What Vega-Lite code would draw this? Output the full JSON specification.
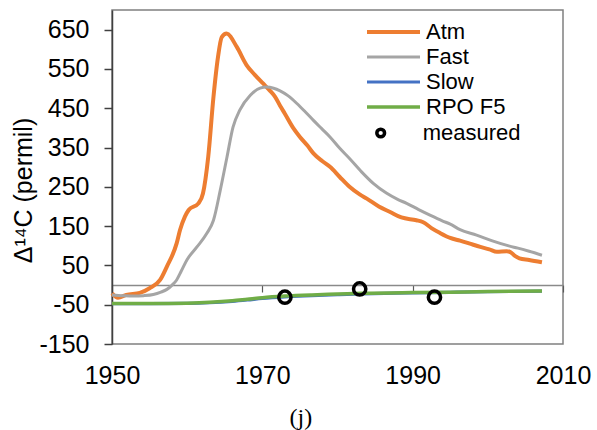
{
  "$schema": "https://vega.github.io/schema/vega-lite/v6.json",
  "width": 451,
  "height": 334,
  "autosize": {"type": "none"},
  "padding": {"left": 112, "top": 10, "right": 34, "bottom": 86},
  "background": "white",
  "config": {
    "font": "Liberation Sans",
    "view": {"stroke": "#808080", "strokeWidth": 1.5}
  },
  "title": {
    "text": "(j)",
    "orient": "bottom",
    "anchor": "middle",
    "frame": "bounds",
    "font": "Liberation Serif",
    "fontSize": 24,
    "fontWeight": "normal",
    "color": "black",
    "offset": 18
  },
  "datasets": {
    "lines": [
      {"series": "Atm", "year": 1950.0, "value": -21},
      {"series": "Atm", "year": 1950.8, "value": -32},
      {"series": "Atm", "year": 1951.9, "value": -25},
      {"series": "Atm", "year": 1953.7, "value": -20},
      {"series": "Atm", "year": 1955.0, "value": -8},
      {"series": "Atm", "year": 1956.4, "value": 13},
      {"series": "Atm", "year": 1957.3, "value": 47},
      {"series": "Atm", "year": 1958.6, "value": 106},
      {"series": "Atm", "year": 1959.05, "value": 140},
      {"series": "Atm", "year": 1959.7, "value": 174},
      {"series": "Atm", "year": 1960.2, "value": 191},
      {"series": "Atm", "year": 1961.5, "value": 208},
      {"series": "Atm", "year": 1962.1, "value": 233},
      {"series": "Atm", "year": 1962.8, "value": 326},
      {"series": "Atm", "year": 1963.5, "value": 479},
      {"series": "Atm", "year": 1964.1, "value": 580},
      {"series": "Atm", "year": 1964.6, "value": 631},
      {"series": "Atm", "year": 1965.25, "value": 640},
      {"series": "Atm", "year": 1966.6, "value": 606},
      {"series": "Atm", "year": 1967.9, "value": 560},
      {"series": "Atm", "year": 1969.0, "value": 535},
      {"series": "Atm", "year": 1970.1, "value": 513},
      {"series": "Atm", "year": 1971.0, "value": 495},
      {"series": "Atm", "year": 1971.7, "value": 479},
      {"series": "Atm", "year": 1972.4, "value": 455},
      {"series": "Atm", "year": 1973.0, "value": 436},
      {"series": "Atm", "year": 1974.1, "value": 400},
      {"series": "Atm", "year": 1975.0, "value": 377},
      {"series": "Atm", "year": 1976.0, "value": 355},
      {"series": "Atm", "year": 1976.8, "value": 335},
      {"series": "Atm", "year": 1978.0, "value": 315},
      {"series": "Atm", "year": 1979.0, "value": 301},
      {"series": "Atm", "year": 1980.3, "value": 275},
      {"series": "Atm", "year": 1981.6, "value": 250},
      {"series": "Atm", "year": 1983.0, "value": 230},
      {"series": "Atm", "year": 1983.9, "value": 220},
      {"series": "Atm", "year": 1985.5, "value": 200},
      {"series": "Atm", "year": 1987.0, "value": 186},
      {"series": "Atm", "year": 1988.5, "value": 172},
      {"series": "Atm", "year": 1990.5, "value": 165},
      {"series": "Atm", "year": 1991.4, "value": 160},
      {"series": "Atm", "year": 1992.5, "value": 145},
      {"series": "Atm", "year": 1993.6, "value": 133},
      {"series": "Atm", "year": 1995.0, "value": 120},
      {"series": "Atm", "year": 1996.3, "value": 113},
      {"series": "Atm", "year": 1997.5, "value": 106},
      {"series": "Atm", "year": 1999.0, "value": 97},
      {"series": "Atm", "year": 2000.2, "value": 91},
      {"series": "Atm", "year": 2001.2, "value": 85},
      {"series": "Atm", "year": 2002.5, "value": 86},
      {"series": "Atm", "year": 2003.0, "value": 84},
      {"series": "Atm", "year": 2003.6, "value": 74},
      {"series": "Atm", "year": 2004.2, "value": 68},
      {"series": "Atm", "year": 2005.5, "value": 64},
      {"series": "Atm", "year": 2007.2, "value": 58},
      {"series": "Fast", "year": 1950.0, "value": -25},
      {"series": "Fast", "year": 1951.5, "value": -27},
      {"series": "Fast", "year": 1952.8, "value": -28},
      {"series": "Fast", "year": 1954.2, "value": -27},
      {"series": "Fast", "year": 1955.5, "value": -24},
      {"series": "Fast", "year": 1956.5, "value": -18},
      {"series": "Fast", "year": 1957.3, "value": -11},
      {"series": "Fast", "year": 1958.0, "value": 0},
      {"series": "Fast", "year": 1958.6, "value": 13},
      {"series": "Fast", "year": 1959.2, "value": 35},
      {"series": "Fast", "year": 1960.0, "value": 65},
      {"series": "Fast", "year": 1961.3, "value": 97},
      {"series": "Fast", "year": 1962.6, "value": 131},
      {"series": "Fast", "year": 1963.5, "value": 165},
      {"series": "Fast", "year": 1964.4, "value": 241},
      {"series": "Fast", "year": 1965.3, "value": 326},
      {"series": "Fast", "year": 1966.1, "value": 402},
      {"series": "Fast", "year": 1967.0, "value": 445},
      {"series": "Fast", "year": 1968.4, "value": 483},
      {"series": "Fast", "year": 1969.7, "value": 501},
      {"series": "Fast", "year": 1970.6, "value": 504},
      {"series": "Fast", "year": 1971.5, "value": 501},
      {"series": "Fast", "year": 1972.3, "value": 495},
      {"series": "Fast", "year": 1973.4, "value": 482},
      {"series": "Fast", "year": 1974.6, "value": 462},
      {"series": "Fast", "year": 1975.7, "value": 441},
      {"series": "Fast", "year": 1976.8, "value": 419},
      {"series": "Fast", "year": 1977.9, "value": 398},
      {"series": "Fast", "year": 1979.0, "value": 377},
      {"series": "Fast", "year": 1980.3, "value": 348},
      {"series": "Fast", "year": 1981.6, "value": 322},
      {"series": "Fast", "year": 1983.2, "value": 288},
      {"series": "Fast", "year": 1984.8, "value": 258},
      {"series": "Fast", "year": 1986.5, "value": 234},
      {"series": "Fast", "year": 1988.0, "value": 218},
      {"series": "Fast", "year": 1989.2, "value": 208},
      {"series": "Fast", "year": 1990.8, "value": 192},
      {"series": "Fast", "year": 1992.3, "value": 178},
      {"series": "Fast", "year": 1994.0, "value": 163},
      {"series": "Fast", "year": 1995.0, "value": 155},
      {"series": "Fast", "year": 1996.3, "value": 141},
      {"series": "Fast", "year": 1998.5, "value": 127},
      {"series": "Fast", "year": 2000.5, "value": 113},
      {"series": "Fast", "year": 2002.9, "value": 99},
      {"series": "Fast", "year": 2004.0, "value": 94},
      {"series": "Fast", "year": 2005.5, "value": 86},
      {"series": "Fast", "year": 2007.2, "value": 76},
      {"series": "Slow", "year": 1950.0, "value": -47},
      {"series": "Slow", "year": 1955.0, "value": -47},
      {"series": "Slow", "year": 1960.0, "value": -46.5},
      {"series": "Slow", "year": 1963.0, "value": -45},
      {"series": "Slow", "year": 1966.0, "value": -41.5},
      {"series": "Slow", "year": 1968.0, "value": -38},
      {"series": "Slow", "year": 1970.0, "value": -34},
      {"series": "Slow", "year": 1973.0, "value": -30},
      {"series": "Slow", "year": 1976.6, "value": -27},
      {"series": "Slow", "year": 1980.0, "value": -24.5},
      {"series": "Slow", "year": 1983.3, "value": -22.5},
      {"series": "Slow", "year": 1990.0, "value": -20},
      {"series": "Slow", "year": 1995.0, "value": -18.5},
      {"series": "Slow", "year": 2000.0, "value": -17},
      {"series": "Slow", "year": 2007.2, "value": -15.5},
      {"series": "RPO F5", "year": 1950.0, "value": -47},
      {"series": "RPO F5", "year": 1955.0, "value": -47},
      {"series": "RPO F5", "year": 1960.0, "value": -46},
      {"series": "RPO F5", "year": 1963.0, "value": -44},
      {"series": "RPO F5", "year": 1966.0, "value": -40},
      {"series": "RPO F5", "year": 1968.0, "value": -36},
      {"series": "RPO F5", "year": 1970.0, "value": -32},
      {"series": "RPO F5", "year": 1973.0, "value": -28},
      {"series": "RPO F5", "year": 1976.6, "value": -25},
      {"series": "RPO F5", "year": 1980.0, "value": -23},
      {"series": "RPO F5", "year": 1983.3, "value": -21},
      {"series": "RPO F5", "year": 1990.0, "value": -19},
      {"series": "RPO F5", "year": 1995.0, "value": -18},
      {"series": "RPO F5", "year": 2000.0, "value": -16.5},
      {"series": "RPO F5", "year": 2007.2, "value": -15}
    ],
    "measured": [
      {"kind": "measured", "year": 1973.0, "value": -31},
      {"kind": "measured", "year": 1982.95, "value": -10},
      {"kind": "measured", "year": 1992.9, "value": -31}
    ]
  },
  "layer": [
    {
      "data": {"name": "lines"},
      "mark": {"type": "line", "interpolate": "monotone"},
      "encoding": {
        "x": {
          "field": "year",
          "type": "quantitative",
          "scale": {"domain": [1950, 2010], "nice": false, "zero": false},
          "axis": {
            "values": [1950, 1970, 1990, 2010],
            "format": "d",
            "title": null,
            "grid": false,
            "ticks": false,
            "domain": false,
            "labelFlush": false,
            "labelOverlap": false,
            "labelFontSize": 25,
            "labelPadding": 19,
            "labelColor": "black"
          }
        },
        "y": {
          "field": "value",
          "type": "quantitative",
          "scale": {"domain": [-150, 700], "nice": false, "zero": false},
          "axis": {
            "values": [-150, -50, 50, 150, 250, 350, 450, 550, 650],
            "labelExpr": "datum.value < 0 ? '-' + abs(datum.value) : '' + datum.value",
            "title": "Δ¹⁴C (permil)",
            "grid": false,
            "tickSize": 8,
            "tickColor": "#404040",
            "tickWidth": 1.5,
            "domainColor": "#404040",
            "domainWidth": 1.5,
            "labelFlush": false,
            "labelOverlap": false,
            "labelFontSize": 25,
            "labelPadding": 15,
            "labelColor": "black",
            "titleFontSize": 25,
            "titleFontWeight": "normal",
            "titleColor": "black",
            "titleX": -76,
            "titleY": 180,
            "titleAngle": 270,
            "titleBaseline": "bottom",
            "titleAlign": "center"
          }
        },
        "color": {
          "field": "series",
          "type": "nominal",
          "sort": ["Atm", "Fast", "Slow", "RPO F5"],
          "scale": {
            "domain": ["Atm", "Fast", "Slow", "RPO F5"],
            "range": ["#ED7D31", "#A5A5A5", "#4472C4", "#70AD47"]
          },
          "legend": {
            "title": null,
            "orient": "none",
            "legendX": 253,
            "legendY": 9.5,
            "symbolType": "stroke",
            "symbolSize": 2809,
            "symbolStrokeWidth": 4,
            "clipHeight": 25,
            "rowPadding": 0,
            "labelFontSize": 22,
            "labelOffset": 4,
            "labelColor": "black",
            "padding": 0,
            "encode": {"symbols": {"update": {"strokeWidth": {"value": 4}}}}
          }
        },
        "strokeWidth": {
          "field": "series",
          "type": "ordinal",
          "scale": {
            "type": "ordinal",
            "domain": ["Atm", "Fast", "Slow", "RPO F5"],
            "range": [4, 3, 3.2, 3.5]
          },
          "legend": null
        }
      }
    },
    {
      "data": {"name": "measured"},
      "mark": {"type": "point", "filled": false, "stroke": "black", "strokeWidth": 3.5, "size": 150, "opacity": 1},
      "encoding": {
        "x": {
          "field": "year",
          "type": "quantitative",
          "axis": {
            "orient": "bottom",
            "offset": -59,
            "values": [1950, 1970, 1990, 2010],
            "labels": false,
            "ticks": true,
            "tickSize": 7,
            "tickColor": "#595959",
            "tickWidth": 1.2,
            "domain": true,
            "domainColor": "#8a8a8a",
            "domainWidth": 1.5,
            "grid": false,
            "title": null
          }
        },
        "y": {"field": "value", "type": "quantitative"},
        "shape": {
          "field": "kind",
          "type": "nominal",
          "scale": {"range": ["circle"]},
          "legend": {
            "title": null,
            "orient": "none",
            "legendX": 257.7,
            "legendY": 110.5,
            "symbolSize": 60,
            "symbolStrokeWidth": 3.5,
            "symbolStrokeColor": "black",
            "symbolFillColor": "transparent",
            "clipHeight": 25,
            "labelFontSize": 22,
            "labelOffset": 31,
            "labelColor": "black",
            "padding": 0
          }
        }
      }
    }
  ],
  "resolve": {"axis": {"x": "independent"}}
}
